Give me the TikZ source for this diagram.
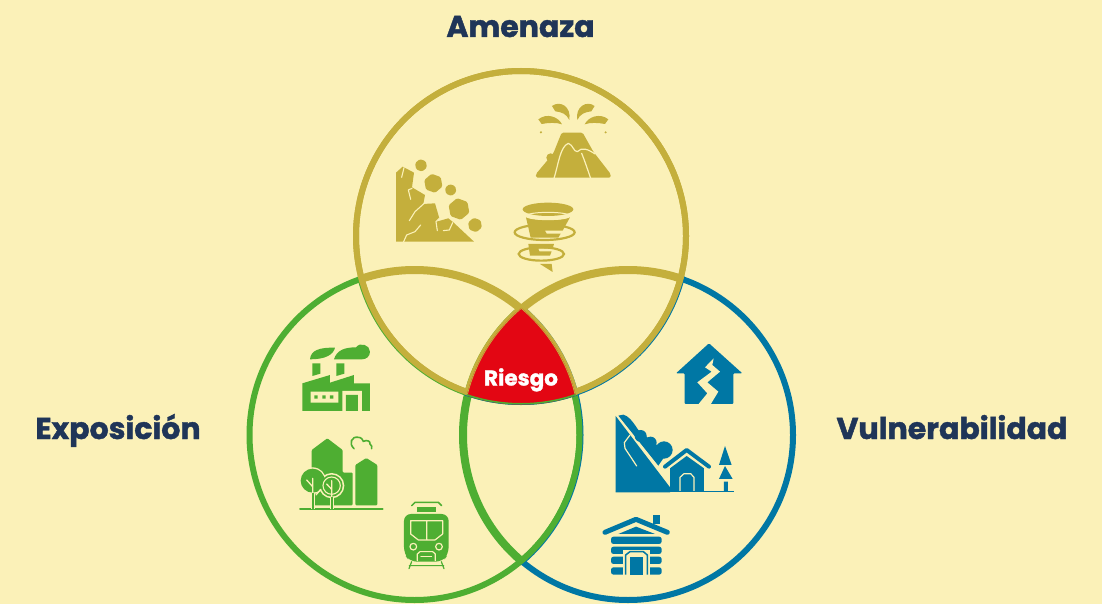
\documentclass[tikz,border=0pt]{standalone}
\usepackage{fontspec}
\setmainfont[BoldFeatures={FakeBold=1.4}]{Poppins}
\definecolor{paper}{HTML}{FBF1B8}
\definecolor{gold}{HTML}{C4AF3C}
\definecolor{leaf}{HTML}{4EAE32}
\definecolor{sea}{HTML}{0077A4}
\definecolor{alarm}{HTML}{E30613}
\definecolor{navy}{HTML}{1F3558}
\tikzset{
  ring/.style={line width=6pt},
  title/.style={font=\fontsize{30}{30}\selectfont\bfseries,text=navy,inner sep=0pt,anchor=base},
  gap/.style={draw=paper,line width=1.2pt,line cap=round,line join=round},
  zoomed/.style={x=0.3333pt,y=-0.3333pt},
}
\newcommand{\hexrock}[3]{(#1,#2)+(20:#3)--+(80:#3)--+(140:#3)--+(200:#3)--+(260:#3)--+(320:#3)--cycle}
\begin{document}
\begin{tikzpicture}[x=1pt,y=-1pt]
\pgfmathsetmacro{\rr}{165}
\pgfmathsetmacro{\ya}{236}
\pgfmathsetmacro{\yb}{435}
\pgfmathsetmacro{\xa}{521}
\pgfmathsetmacro{\xb}{414.5}
\pgfmathsetmacro{\xc}{628}
\useasboundingbox[fill=paper](0,0)rectangle(1102,604);
% the three rings
\draw[ring,sea](\xc,\yb)circle(\rr);
\draw[ring,leaf](\xb,\yb)circle(\rr);
\draw[ring,gold](\xa,\ya)circle(\rr);
\begin{scope}
\clip(\xb,\yb)circle(\rr+3);
\draw[line width=8pt,leaf](\xc,\yb)circle(\rr);
\end{scope}
\begin{scope}
\clip(\xc,\yb)circle(\rr+3);
\draw[line width=2pt,sea](\xb,\yb)circle(\rr+3);
\draw[line width=6pt,leaf](\xb,\yb)circle(\rr);
\end{scope}
\begin{scope}
\clip(\xb,\yb)circle(\rr+3);
\draw[line width=2pt,leaf](\xa,\ya)circle(\rr+3);
\end{scope}
\begin{scope}
\clip(\xc,\yb)circle(\rr+3);
\draw[line width=2pt,sea](\xa,\ya)circle(\rr+3);
\end{scope}
\begin{scope}
\clip(\xa,\ya)circle(\rr+3);
\draw[line width=8pt,gold](\xb,\yb)circle(\rr);
\draw[line width=8pt,gold](\xc,\yb)circle(\rr);
\end{scope}
\draw[ring,gold](\xa,\ya)circle(\rr);
% the middle
\begin{scope}
\clip(\xa,\ya)circle(\rr+3.5);
\clip(\xb,\yb)circle(\rr+1);
\clip(\xc,\yb)circle(\rr+1);
\fill[alarm](400,290)rectangle(640,420);
\draw[line width=1.6pt,gold](\xb,\yb)circle(\rr+1);
\draw[line width=1.6pt,gold](\xc,\yb)circle(\rr+1);
\draw[line width=2pt,leaf](\xa,\ya)circle(\rr+3);
\end{scope}
\node[font=\fontsize{21.5}{21.5}\selectfont\bfseries,text=white,inner sep=0pt,anchor=base](riesgo)at(521,385.5){Riesgo};
\node[title](amenaza)at(520.5,37){Amenaza};
\node[title](exposicion)at(118,439){Exposición};
\node[title](vulnerabilidad)at(952,439){Vulnerabilidad};
% volcano, rocks, tornado
\begin{scope}[shift={(380,90)},zoomed,fill=gold]
\fill[rounded corners=1.5pt](468,263)--(468,252)--(520,190)--(545,128)--(608,128)--(640,185)--(692,252)--(692,263)--cycle;
\fill(512,203)circle(13);
\draw[gap](522,265)..controls(535,225)and(540,170)..(565,160)..controls(580,165)and(580,185)..(592,185)..controls(605,170)and(625,178)..(645,192);
\draw[gap](632,265)..controls(620,230)and(615,215)..(605,190);
\fill(516,48)..controls(540,30)and(575,50)..(568,90)..controls(560,72)and(545,66)..(526,64)--cycle;
\fill(644,48)..controls(620,30)and(585,50)..(592,90)..controls(600,72)and(615,66)..(634,64)--cycle;
\fill(475,88)..controls(500,68)and(535,80)..(546,103)..controls(530,97)and(505,98)..(485,102)--cycle;
\fill(685,88)..controls(660,68)and(625,80)..(614,103)..controls(630,97)and(655,98)..(675,102)--cycle;
\fill(483,127)circle(3.5)(677,127)circle(3.5);
\fill(48,455)--(48,248)--(68,230)--(102,248)--(96,292)--(135,315)--(130,342)--(165,340)--(178,385)--(170,395)--(205,385)--(220,397)--(282,455)--cycle;
\draw[gap,line width=1.1pt](72,233)--(65,262)(96,295)--(85,300)--(92,328)(135,338)--(105,365)--(88,392)(122,405)--(105,425)--(80,435)--(70,457)(178,385)--(168,395)--(172,422)(218,398)--(208,420)--(190,422);
\foreach \cx/\cy/\cr in {123/226/19,160/280/29,212/300/18,237/357/33,285/405/22}
  \fill[rounded corners=1.4pt]\hexrock{\cx}{\cy}{\cr};
\draw[gold,line width=2.2pt](494,427)ellipse(90 and 23);
\draw[gold,line width=2.2pt](484,492)ellipse(68 and 20);
\fill(504,358)ellipse(76 and 20);
\fill(438,382)..controls(470,393)and(540,393)..(570,382)--(548,422)--(495,422)--(500,431)--(542,431)--(535,443)--(452,443)--cycle;
\draw[gap,line width=1pt](504,378)ellipse(66 and 11);
\fill(445,462)--(522,462)--(518,476)--(475,476)--(478,484)--(515,484)--(510,497)--(450,497)--cycle;
\fill(480,522)--(515,522)--(518,546)--cycle;
\end{scope}
% factory, city, train
\begin{scope}[shift={(280,330)},zoomed,fill=leaf]
\fill(67,243)--(67,160)--(150,135)--(150,158)--(222,135)--(222,160)--(270,160)--(270,243)--cycle;
\fill[paper](187,183)rectangle(246,243)(92,185)rectangle(175,218);
\fill(198,195)rectangle(234,243)(103,196)rectangle(113,206)(127,196)rectangle(137,206)(150,196)rectangle(160,206);
\fill(97,100)--(121,100)--(121,131)--(97,138)--cycle(169,100)--(193,100)--(193,131)--(169,138)--cycle;
\fill(90,88)..controls(92,60)and(120,52)..(165,53)..controls(160,75)and(135,88)..(90,88)--cycle;
\fill(162,88)..controls(170,60)and(195,52)..(228,52)..controls(240,35)and(270,45)..(270,65)..controls(270,80)and(258,88)..(246,88)--cycle;
\fill[rounded corners=1pt](95,360)--(142,325)--(188,360)--(188,428)--(218,428)--(218,526)--(95,526)--cycle;
\fill[rounded corners=1pt](226,405)--(259,384)--(292,405)--(292,526)--(226,526)--cycle;
\draw[leaf,line width=2pt,line cap=round](60,538)--(308,538);
\fill[paper](98,452)circle(40)(155,467)circle(38);
\fill(98,452)circle(36);
\fill(155,467)circle(33);
\draw[paper,line width=1.1pt](155,467)circle(26);
\draw[paper,line width=3.8pt](98,488)--(98,536)(155,500)--(155,536);
\draw[gap,line width=1.3pt](98,490)--(98,445)(80,450)--(98,470)(155,500)--(155,452)(140,462)--(155,478)(122,478)--(108,495);
\draw[leaf,line width=1.7pt](98,488)--(98,536)(155,500)--(155,536);
\draw[leaf,line width=1.6pt,line cap=round](222,356)..controls(205,340)and(215,318)..(235,322)..controls(245,322)and(248,330)..(250,334)..controls(262,328)and(272,335)..(270,342)..controls(276,345)and(276,352)..(275,356);
\draw[leaf,line width=1.5pt,line cap=round,line join=round](395,527)--(405,517)--(475,517)--(485,527);
\fill(410,532)rectangle(468,545);
\fill[rounded corners=7pt](372,552)--(506,552)--(506,672)--(488,695)--(390,695)--(372,672)--cycle;
\draw[gap](392,572)--(488,572)--(488,612)--(465,630)--(415,630)--(392,612)--cycle(440,572)--(440,630);
\draw[gap](400,650)circle(10)(477,650)circle(10);
\draw[gap](412,692)--(412,672)--(420,665)--(458,665)--(466,672)--(466,692);
\draw[gap,line width=1pt](423,679)--(455,679);
\draw[leaf,line width=1.2pt,line cap=round](395,695)--(387,716)(484,695)--(492,716)(388,707)--(491,707);
\end{scope}
% broken house, landslide, cabin
\begin{scope}[shift={(590,330)},zoomed,fill=sea]
\fill[rounded corners=1pt](258,130)--(357,40)--(457,130)--(430,130)--(430,222)--(284,222)--(284,130)--cycle;
\fill[paper](371,85)--(345,112)--(365,125)--(322,157)--(352,190)--(325,223)--(362,223)--(385,185)--(352,157)--(390,125)--(367,105)--cycle;
\fill(77,258)--(77,487)--(240,487)--(240,472)--cycle;
\fill(85,257)--(100,254)..controls(115,258)and(125,270)..(145,300)--(200,345)--(220,385)--(205,407)--cycle;
\fill(152,318)circle(18)(182,338)circle(18)(222,360)circle(26);
\draw[gap,line width=1.2pt](120,315)--(103,338)--(105,355)--(140,408);
\draw[sea,line width=1pt](77,485)--(433,485);
\fill(240,415)--(290,378)--(342,415)--(342,485)--(240,485)--cycle;
\draw[sea,line width=4pt,line cap=round,line join=round](225,410)--(290,360)--(357,410);
\draw[gap,line cap=butt](270,483)--(270,442)--(282,431)--(302,431)--(312,442)--(312,483);
\fill(405,348)--(425,405)--(387,405)--cycle(405,408)--(428,447)--(387,447)--cycle(402,455)rectangle(414,485);
\fill(188,555)rectangle(210,582);
\draw[sea,line width=5pt,line cap=round,line join=round](45,607)--(138,568)--(232,607);
\fill(85,612)--(138,590)--(195,612)--cycle;
\fill[rounded corners=2.5pt](63,620)rectangle(215,642);
\fill[rounded corners=2.5pt](63,650)rectangle(215,672);
\fill[rounded corners=2.5pt](63,680)rectangle(215,702);
\fill[rounded corners=2.5pt](63,712)rectangle(215,734);
\fill[paper](98,660)rectangle(180,736);
\draw[sea,line width=1.5pt](107,734)--(107,675)--(120,665)--(160,665)--(172,675)--(172,734);
\fill(120,680)rectangle(160,734);
\end{scope}
\end{tikzpicture}
\end{document}
